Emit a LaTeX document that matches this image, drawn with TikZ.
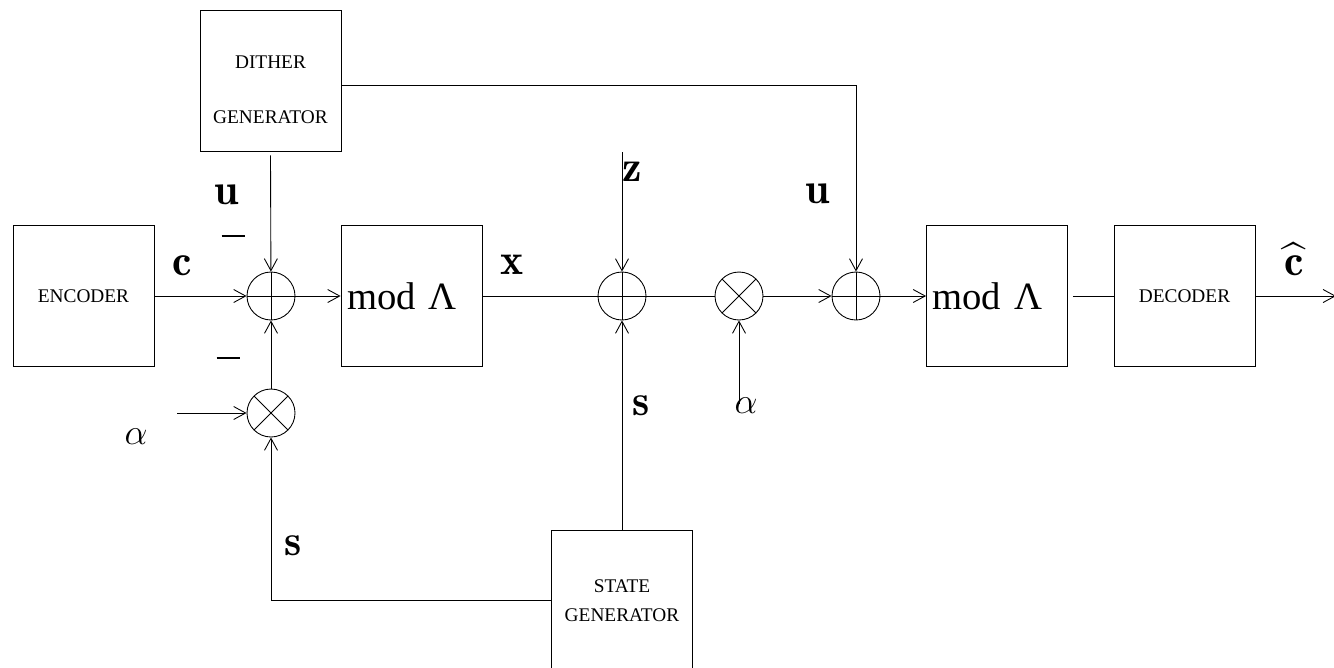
\documentclass[tikz,border=0pt]{standalone}
\usepackage{amsmath}
\usepackage{fontspec}
\newfontfamily\blkfont{Liberation Serif}
\usetikzlibrary{arrows.meta, positioning}

\begin{document}
\begin{tikzpicture}[
  x=0.02cm, y=-0.02cm,
  line width=0.5pt,
  blk/.style={draw, minimum size=2.82cm, inner sep=0pt, align=center,
              font=\blkfont\fontsize{11}{13.5}\selectfont},
  blktext/.style={align=center, font=\blkfont\fontsize{11}{13.5}\selectfont},
  modblk/.style={draw, minimum size=2.82cm, inner xsep=0.12cm, text width=2.58cm,
                 align=left, font=\blkfont\fontsize{22}{26}\selectfont},
  adder/.style={circle, draw, minimum size=0.96cm, inner sep=0pt,
                path picture={\draw (path picture bounding box.north) -- (path picture bounding box.south)
                  (path picture bounding box.west) -- (path picture bounding box.east);}},
  mixer/.style={circle, draw, minimum size=0.96cm, inner sep=0pt,
                path picture={\draw (path picture bounding box.north west) -- (path picture bounding box.south east)
                  (path picture bounding box.south west) -- (path picture bounding box.north east);}},
  sig/.style={font=\Huge, inner sep=0pt},
  >={Straight Barb[length=2.4mm, width=2.6mm]}
]
\useasboundingbox (0,0) rectangle (1334,667);

\node[blk, label={[blktext, yshift=-0.18cm]center:DITHER\\[18pt]GENERATOR}] (dither) at (270.5,80.5) {};
\node[blk] (enc) at (83.5,296) {ENCODER};
\node[adder] (sum1) at (271,296) {};
\node[mixer] (mix1) at (271,413) {};
\node[modblk] (mod1) at (411.5,296) {mod Λ};
\node[adder] (sum2) at (622,296) {};
\node[mixer] (mix2) at (739,296) {};
\node[adder] (sum3) at (856,296) {};
\node[modblk] (mod2) at (997,296) {mod Λ};
\node[blk] (dec) at (1184.5,296) {DECODER};
\node[blk] (state) at (622,600.5) {STATE\\[3pt]GENERATOR};

\coordinate (zin) at (622,152);
\coordinate (ain1) at (177,413);
\coordinate (ain2) at (739,404);
\coordinate (out) at (1336,296);

\draw[->] ([yshift=-0.08cm]dither.south) -- (sum1);
\draw[->] (enc) -- (sum1);
\draw[->] (sum1) -- (mod1);
\draw[->] (mix1) -- (sum1);
\draw[->] (ain1) -- (mix1);
\draw[->] (state.west) -| (mix1);
\draw (mod1) -- (sum2);
\draw[->] (zin) -- (sum2);
\draw[->] (state) -- (sum2);
\draw (sum2) -- (mix2);
\draw[->] (ain2) -- (mix2);
\draw[->] (mix2) -- (sum3);
\draw[->] ([yshift=-0.09cm]dither.east) -| (sum3);
\draw[->] (sum3) -- (mod2);
\draw ([xshift=0.1cm]mod2.east) -- (dec);
\draw[->] (dec) -- (out);

\node[sig] (lu1) at (227,195) {$\mathbf{u}$};
\node[sig] (lbar1) at (233,236) {\rule{0.46cm}{1.5pt}};
\node[sig] (lc) at (182,266) {$\mathbf{c}$};
\node[sig] (lbar2) at (228,358) {\rule{0.46cm}{1.5pt}};
\node[sig, font=\huge] (la1) at (136,437) {$\alpha$};
\node[sig] (ls1) at (293,546) {$\mathbf{s}$};
\node[sig] (lx) at (512,265) {$\mathbf{x}$};
\node[sig] (lz) at (632,172) {$\mathbf{z}$};
\node[sig] (ls2) at (641,406) {$\mathbf{s}$};
\node[sig, font=\huge] (la2) at (746,406) {$\alpha$};
\node[sig] (lu2) at (818,194) {$\mathbf{u}$};
\node[sig] (lchat) at (1294,259) {$\widehat{\mathbf{c}}$};
\end{tikzpicture}
\end{document}
